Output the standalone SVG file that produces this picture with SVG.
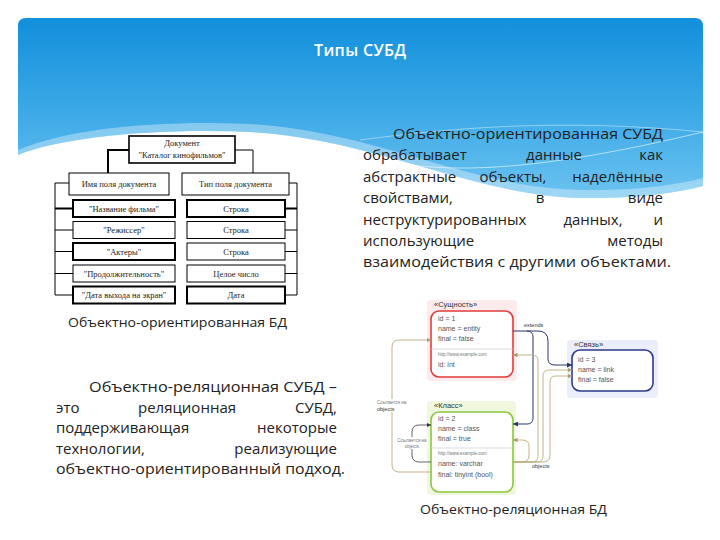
<svg xmlns="http://www.w3.org/2000/svg" width="720" height="540" viewBox="0 0 720 540">
<defs>
<linearGradient id="bg" x1="0" y1="0" x2="0" y2="1">
<stop offset="0" stop-color="#128fdb"/>
<stop offset="0.5" stop-color="#3aa8e6"/>
<stop offset="1" stop-color="#6cc3f0"/>
</linearGradient>
<marker id="aNavy" viewBox="0 0 6 6" refX="6" refY="3" markerWidth="5" markerHeight="5" orient="auto"><path d="M0,0 L6,3 L0,6 Z" fill="#2a3570"/></marker>
<marker id="aTan" viewBox="0 0 6 6" refX="6" refY="3" markerWidth="5" markerHeight="5" orient="auto"><path d="M0,0 L6,3 L0,6 Z" fill="#a89a6a"/></marker>
<marker id="aDark" viewBox="0 0 6 6" refX="6" refY="3" markerWidth="5" markerHeight="5" orient="auto"><path d="M0,0 L6,3 L0,6 Z" fill="#333"/></marker>
<style>
.slide{font-family:"Open Sans","Noto Sans","DejaVu Sans",sans-serif;font-size:15px;fill:#222}
.cap{font-family:"Open Sans","Noto Sans","DejaVu Sans",sans-serif;font-size:13px;fill:#222}
.tree rect{fill:#fff;stroke:#000}
.tt{font-family:"Liberation Serif","DejaVu Serif",serif;font-size:8.5px;fill:#222;text-anchor:middle}
.tl{fill:none;stroke:#000}
.nb{fill:#fff;stroke-width:1.6}
.nt{font-family:"Liberation Sans","DejaVu Sans",sans-serif;font-size:7px;fill:#555}
.nl{font-family:"Liberation Sans","DejaVu Sans",sans-serif;font-size:7.5px;fill:#333}
.tiny{font-family:"Liberation Sans","DejaVu Sans",sans-serif;font-size:4.5px;fill:#777}
.el{font-family:"Liberation Sans","DejaVu Sans",sans-serif;font-size:5.5px;fill:#333}
.navy{fill:none;stroke:#2a3570;stroke-width:1}
.tan{fill:none;stroke:#b8ab80;stroke-width:0.9}
.dark{fill:none;stroke:#555;stroke-width:0.9}
</style>
</defs>
<rect width="720" height="540" fill="#fff"/>
<!-- banner -->
<path d="M26,18 H695 Q703,18 703,26 V186 C680,192 640,199 580,198 C470,195 380,140 250,132 C150,128 60,138 18,155 V26 Q18,18 26,18 Z" fill="url(#bg)"/>
<path d="M18,150 C70,128 160,120 250,124 C380,132 470,188 580,190 C640,191 680,184 703,178 V186 C680,192 640,199 580,198 C470,195 380,140 250,132 C150,128 60,138 18,155 Z" fill="#fff" opacity="0.35"/>
<path d="M230,132 C300,140 340,150 380,160 C440,172 520,176 703,132" fill="none" stroke="#fff" stroke-width="0.8" opacity="0.7"/>
<path d="M360,140 C450,128 560,118 703,132" fill="none" stroke="#fff" stroke-width="0.7" opacity="0.6"/>
<text x="360" y="56" text-anchor="middle" font-family="Open Sans, Noto Sans, sans-serif" font-size="16" font-weight="600" fill="#fff" textLength="92">Типы СУБД</text>

<!-- left tree diagram -->
<g class="tree">
<g id="tree-connectors">
<polyline class="tl" points="129,150 108,150 108,173" stroke-width="2"/>
<polyline class="tl" points="235,150 253,150 253,173" stroke-width="1"/>
<polyline class="tl" points="69,183 55,183 55,295" stroke-width="1"/>
<line class="tl" x1="55" y1="208.5" x2="73" y2="208.5" stroke-width="2"/>
<line class="tl" x1="55" y1="230" x2="73" y2="230"/>
<line class="tl" x1="55" y1="251.5" x2="73" y2="251.5"/>
<line class="tl" x1="55" y1="273.5" x2="73" y2="273.5"/>
<line class="tl" x1="55" y1="295" x2="73" y2="295"/>
<polyline class="tl" points="289,183 297,183 297,295" stroke-width="1"/>
<line class="tl" x1="297" y1="208.5" x2="285" y2="208.5" stroke-width="2"/>
<line class="tl" x1="297" y1="230" x2="285" y2="230"/>
<line class="tl" x1="297" y1="251.5" x2="285" y2="251.5"/>
<line class="tl" x1="297" y1="273.5" x2="285" y2="273.5"/>
<line class="tl" x1="297" y1="295" x2="285" y2="295"/>
</g>
<g id="t-doc"><rect x="129" y="136" width="106" height="27" stroke-width="1.6"/><text class="tt" x="182" y="145.5">Документ</text><text class="tt" x="182" y="157.5">"Каталог кинофильмов"</text></g>
<g id="t-name"><rect x="69" y="173" width="100" height="22" stroke-width="1"/><text class="tt" x="119" y="187">Имя поля документа</text></g>
<g id="t-type"><rect x="182" y="173" width="107" height="22" stroke-width="1"/><text class="tt" x="235.5" y="187">Тип поля документа</text></g>
<g id="t-l1"><rect x="73" y="200" width="102" height="17" stroke-width="2"/><text class="tt" x="124" y="211.5">"Название фильма"</text></g>
<g id="t-l2"><rect x="73" y="221.5" width="102" height="17" stroke-width="1"/><text class="tt" x="124" y="233">"Режиссер"</text></g>
<g id="t-l3"><rect x="73" y="243" width="102" height="17" stroke-width="2"/><text class="tt" x="124" y="254.5">"Актеры"</text></g>
<g id="t-l4"><rect x="73" y="265" width="102" height="17" stroke-width="1"/><text class="tt" x="124" y="276.5">"Продолжительность"</text></g>
<g id="t-l5"><rect x="73" y="286.5" width="102" height="17" stroke-width="2"/><text class="tt" x="124" y="298">"Дата выхода на экран"</text></g>
<g id="t-r1"><rect x="187" y="200" width="98" height="17" stroke-width="2"/><text class="tt" x="236" y="211.5">Строка</text></g>
<g id="t-r2"><rect x="187" y="221.5" width="98" height="17" stroke-width="1"/><text class="tt" x="236" y="233">Строка</text></g>
<g id="t-r3"><rect x="187" y="243" width="98" height="17" stroke-width="1"/><text class="tt" x="236" y="254.5">Строка</text></g>
<g id="t-r4"><rect x="187" y="265" width="98" height="17" stroke-width="1"/><text class="tt" x="236" y="276.5">Целое число</text></g>
<g id="t-r5"><rect x="187" y="286.5" width="98" height="17" stroke-width="2"/><text class="tt" x="236" y="298">Дата</text></g>
</g>
<text class="cap" x="68" y="327" textLength="219" lengthAdjust="spacingAndGlyphs">Объектно-ориентированная БД</text>

<!-- right paragraph -->
<g class="slide">
<text x="393" y="139" textLength="270" lengthAdjust="spacingAndGlyphs">Объектно-ориентированная СУБД</text>
<text x="363" y="160">обрабатывает</text><text x="554" y="160" text-anchor="middle">данные</text><text x="663" y="160" text-anchor="end">как</text>
<text x="363" y="181.5">абстрактные</text><text x="513" y="181.5" text-anchor="middle">объекты,</text><text x="663" y="181.5" text-anchor="end">наделённые</text>
<text x="363" y="203">свойствами,</text><text x="540" y="203" text-anchor="middle">в</text><text x="663" y="203" text-anchor="end">виде</text>
<text x="363" y="224.5">неструктурированных</text><text x="593" y="224.5" text-anchor="middle">данных,</text><text x="663" y="224.5" text-anchor="end">и</text>
<text x="363" y="245.5">использующие</text><text x="663" y="245.5" text-anchor="end">методы</text>
<text x="363" y="267" textLength="308" lengthAdjust="spacingAndGlyphs">взаимодействия с другими объектами.</text>
</g>

<!-- left paragraph -->
<g class="slide">
<text x="89" y="392" textLength="248" lengthAdjust="spacingAndGlyphs">Объектно-реляционная СУБД –</text>
<text x="56" y="412.5">это</text><text x="187" y="412.5" text-anchor="middle">реляционная</text><text x="337" y="412.5" text-anchor="end">СУБД,</text>
<text x="56" y="433">поддерживающая</text><text x="337" y="433" text-anchor="end">некоторые</text>
<text x="56" y="453.5">технологии,</text><text x="337" y="453.5" text-anchor="end">реализующие</text>
<text x="56" y="474" textLength="289" lengthAdjust="spacingAndGlyphs">объектно-ориентированный подход.</text>
</g>

<!-- right diagram -->
<g id="n-entity">
<rect x="427" y="300" width="90" height="81" rx="4" fill="#fdeaea"/>
<rect class="nb" x="431" y="311" width="82" height="66" rx="8" stroke="#e03c3c"/>
<text class="nl" x="434" y="307">«Сущность»</text>
<text class="nt" x="438" y="321">id = 1</text>
<text class="nt" x="438" y="331">name = entity</text>
<text class="nt" x="438" y="341">final = false</text>
<line x1="431" y1="349" x2="513" y2="349" stroke="#ccc" stroke-width="0.7"/>
<text class="tiny" x="438" y="356">http://www.example.com</text>
<text class="nt" x="438" y="367">id: int</text>
</g>
<g id="n-link">
<rect x="567" y="340" width="91" height="58" rx="4" fill="#eaedfa"/>
<rect class="nb" x="572" y="350" width="81" height="41" rx="8" stroke="#2e3a8c"/>
<text class="nl" x="574" y="347">«Связь»</text>
<text class="nt" x="578" y="362">id = 3</text>
<text class="nt" x="578" y="372">name = link</text>
<text class="nt" x="578" y="382">final = false</text>
</g>
<g id="n-class">
<rect x="427" y="401" width="89" height="94" rx="4" fill="#eff8df"/>
<rect class="nb" x="431" y="412" width="82" height="80" rx="8" stroke="#8cc63f"/>
<text class="nl" x="434" y="408">«Класс»</text>
<text class="nt" x="438" y="421">id = 2</text>
<text class="nt" x="438" y="431">name = class</text>
<text class="nt" x="438" y="441">final = true</text>
<line x1="431" y1="448" x2="513" y2="448" stroke="#ccc" stroke-width="0.7"/>
<text class="tiny" x="438" y="455">http://www.example.com</text>
<text class="nt" x="438" y="466">name: varchar</text>
<text class="nt" x="438" y="477">final: tinyint (bool)</text>
</g>
<g id="connectors">
<path class="navy" d="M513,331 H527 Q533,331 533,337 V418 Q533,424 527,424 H513" marker-end="url(#aNavy)"/>
<path class="navy" d="M527,331 H538 Q548,331 548,341 V359 Q548,365 555,365 H572" marker-end="url(#aNavy)"/>
<text class="el" x="524" y="327">extends</text>
<path class="tan" d="M513,462 H522 Q529,462 529,455 V446 Q529,440 522,440 H513" marker-end="url(#aTan)"/>
<path class="tan" d="M513,462 H532 Q538,462 538,456 V361 Q538,355 532,355 H513" marker-end="url(#aTan)"/>
<path class="tan" d="M513,462 H537 Q543,462 543,456 V376 Q543,370 549,370 H572" marker-end="url(#aTan)"/>
<path class="tan" d="M513,462 H543 Q550,462 550,455 V382 Q550,376 556,376 H572" marker-end="url(#aTan)"/>
<text class="el" x="532" y="468">objects</text>
<path class="tan" d="M431,472 H399 Q392,472 392,465 V347 Q392,340 399,340 H431" marker-end="url(#aTan)"/>
<rect x="376" y="399" width="30" height="13" fill="#fff"/>
<text class="tiny" x="377" y="404">Ссылается на</text>
<text class="el" x="377" y="411">objects</text>
<path class="dark" d="M431,462 H419 Q412,462 412,455 V432 Q412,425 419,425 H431" marker-end="url(#aDark)"/>
<rect x="396" y="437" width="32" height="12" fill="#fff"/>
<text class="tiny" x="412" y="442" text-anchor="middle">Ссылается на</text>
<text class="tiny" x="412" y="447.5" text-anchor="middle">objects</text>
</g>
<text class="cap" x="420" y="514" textLength="187" lengthAdjust="spacingAndGlyphs">Объектно-реляционная БД</text>
</svg>
